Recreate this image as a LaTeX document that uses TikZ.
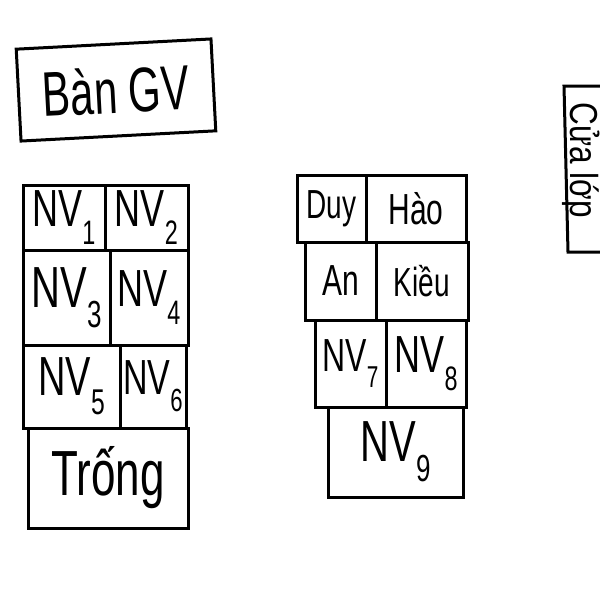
\documentclass[tikz,border=0pt]{standalone}
\usepackage{fontspec}
\setmainfont{Liberation Sans}
\usetikzlibrary{positioning}
\newcommand\nvseat[1]{NV\raisebox{-0.35em}{\scalebox{0.65}{#1}}}

\begin{document}
\begin{tikzpicture}[x=1pt,y=-1pt,line width=3pt,
    seatbox/.style={draw,rectangle,inner sep=0pt,outer sep=0pt}]
    \useasboundingbox (0,0) rectangle (600,600);
    % teacher's desk
    \node[seatbox,minimum width=195pt,minimum height=92pt,rotate=3,
        font=\fontsize{42}{42}\selectfont] (bangv) at (116,90)
        {\scalebox{1}[1.5]{Bàn GV}};
    % door
    \draw (600,86) -- (564,86) -- (568,252) -- (600,252);
    \node[rotate=-90,font=\fontsize{30}{30}\selectfont] (cua) at (581,160)
        {\scalebox{1.05}[1.3]{Cửa lớp}};
    % left block
    \foreach \name/\xa/\ya/\xb/\yb/\fs/\txt in {
        nvA/23/185/105/250/36/\nvseat{1}, nvB/105/185/188/250/36/\nvseat{2},
        nvC/23/250/110/345/40/\nvseat{3}, nvD/110/250/188/345/36/\nvseat{4},
        nvE/23/345/120/428/38/\nvseat{5}, nvF/120/345/186/428/34/\nvseat{6},
        trong/28/428/188/528/44/Trống}
        \node[seatbox,minimum width={(\xb-\xa)*1pt},minimum height={(\yb-\ya)*1pt},
            font=\fontsize{\fs}{\fs}\selectfont] (\name)
            at ({(\xa+\xb)/2},{(\ya+\yb)/2}) {\scalebox{1}[1.45]{\txt}};
    % right block
    \foreach \name/\xa/\ya/\xb/\yb/\fs/\txt in {
        duy/297/175/366/242/28/Duy, hao/366/175/466/242/30/Hào,
        an/305/242/376/320/30/An, kieu/376/242/468/320/28/Kiều,
        nvG/315/320/386/407/32/\nvseat{7}, nvH/386/320/466/407/36/\nvseat{8},
        nvI/328/407/463/497/40/\nvseat{9}}
        \node[seatbox,minimum width={(\xb-\xa)*1pt},minimum height={(\yb-\ya)*1pt},
            font=\fontsize{\fs}{\fs}\selectfont] (\name)
            at ({(\xa+\xb)/2},{(\ya+\yb)/2}) {\scalebox{1}[1.45]{\txt}};
\end{tikzpicture}
\end{document}
